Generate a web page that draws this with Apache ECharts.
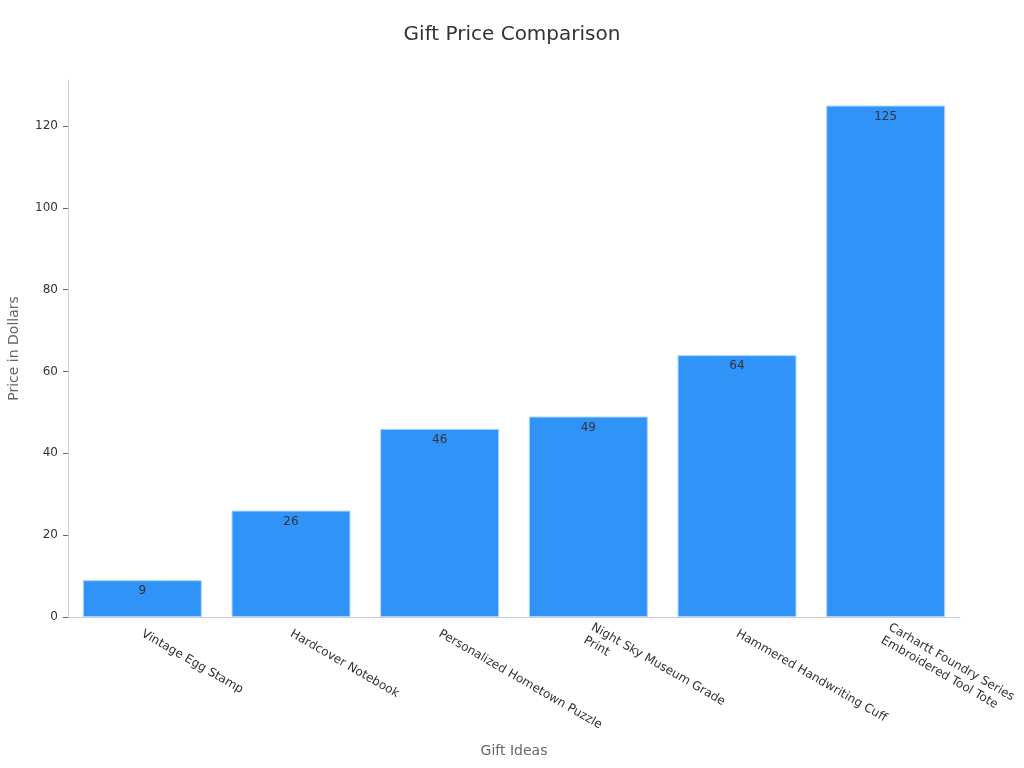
<!DOCTYPE html>
<html><head><meta charset="utf-8">
<script src="https://cdn.jsdelivr.net/npm/echarts@6/dist/echarts.min.js"></script>
<style>html,body{margin:0;padding:0;background:#fff}#c{width:1024px;height:768px}</style>
</head><body><div id="c"></div>
<script>
const categories = ["Vintage Egg Stamp","Hardcover Notebook","Personalized Hometown Puzzle","Night Sky Museum Grade\nPrint","Hammered Handwriting Cuff","Carhartt Foundry Series\nEmbroidered Tool Tote"];
const prices = [9, 26, 46, 49, 64, 125];
const chart = echarts.init(document.getElementById('c'));
chart.setOption({
  textStyle:{fontFamily:'DejaVu Sans'},
  title:{text:'Gift Price Comparison',left:'center',top:20,textStyle:{fontSize:20,fontWeight:'normal',color:'#333',fontFamily:'DejaVu Sans'}},
  grid:{left:68,right:64,top:80,bottom:151,containLabel:false,outerBoundsMode:'none'},
  xAxis:{type:'category',data:categories,name:'Gift Ideas',nameLocation:'middle',nameGap:127,
    nameTextStyle:{color:'#666',fontSize:14},
    axisLine:{lineStyle:{color:'#ccc'}},axisTick:{alignWithLabel:true,length:5,lineStyle:{color:'#666'}},
    axisLabel:{interval:0,rotate:-30,color:'#333',fontSize:12,margin:16,lineHeight:15}},
  yAxis:{type:'value',min:0,max:131.25,interval:20,name:'Price in Dollars',nameLocation:'middle',nameGap:47,
    nameTextStyle:{color:'#666',fontSize:14},
    axisLine:{show:true,lineStyle:{color:'#ccc'}},axisTick:{show:true,length:5,lineStyle:{color:'#666'}},
    axisLabel:{color:'#333',fontSize:12,margin:10,showMaxLabel:false},splitLine:{show:false}},
  series:[{type:'bar',data:prices,barCategoryGap:'20%',
    itemStyle:{color:'#2f93f7',borderColor:'#a6d4ff',borderWidth:1},
    label:{show:true,position:'insideTop',color:'#333',fontSize:12}}]
});
</script></body></html>
